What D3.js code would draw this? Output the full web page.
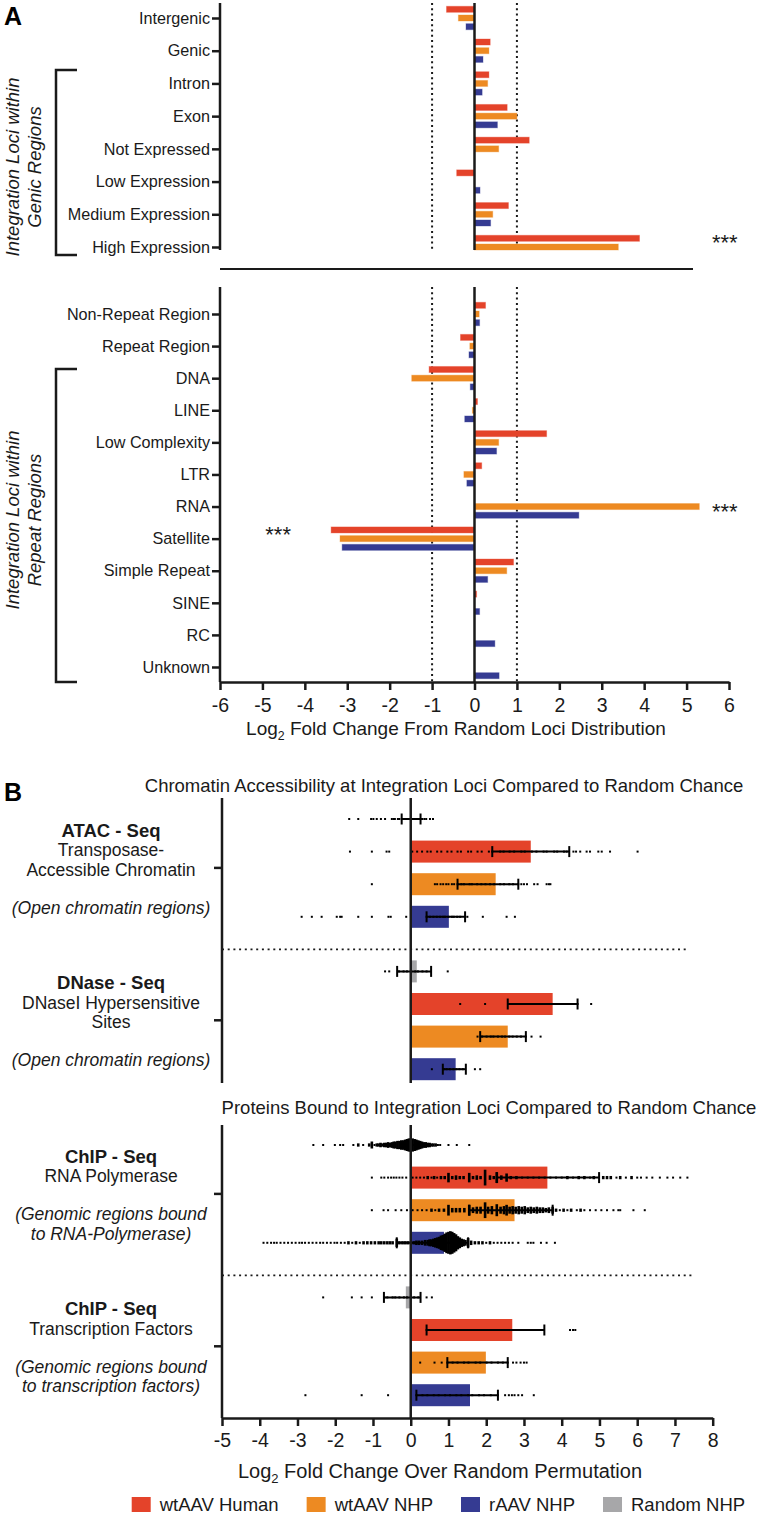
<!DOCTYPE html>
<html>
<head>
<meta charset="utf-8">
<script src="https://cdn.jsdelivr.net/npm/d3@7"></script>
<style>
  body { margin: 0; background: #fff; }
  svg { display: block; font-family: 'Liberation Sans', Arial, sans-serif; }
</style>
</head>
<body>
<svg id="chart" width="758" height="1515"></svg>
<script>
const seriesNames = ['wtAAV Human', 'wtAAV NHP', 'rAAV NHP', 'Random NHP'];
const seriesColors = ['#e4432a', '#ed8a22', '#353b92', '#a7a7a9'];

// ---- Panel A ----
const genicCats = ['Intergenic', 'Genic', 'Intron', 'Exon', 'Not Expressed', 'Low Expression', 'Medium Expression', 'High Expression'];
const genicHuman = [-0.66, 0.37, 0.34, 0.77, 1.29, -0.42, 0.8, 3.89];
const genicWtNhp = [-0.38, 0.34, 0.31, 1.0, 0.57, null, 0.43, 3.39];
const genicRaav = [-0.2, 0.2, 0.18, 0.54, null, 0.13, 0.38, null];

const repeatCats = ['Non-Repeat Region', 'Repeat Region', 'DNA', 'LINE', 'Low Complexity', 'LTR', 'RNA', 'Satellite', 'Simple Repeat', 'SINE', 'RC', 'Unknown'];
const repeatHuman = [0.26, -0.33, -1.07, 0.07, 1.7, 0.17, null, -3.38, 0.92, 0.05, null, null];
const repeatWtNhp = [0.11, -0.11, -1.48, -0.05, 0.57, -0.25, 5.3, -3.17, 0.76, null, null, null];
const repeatRaav = [0.12, -0.13, -0.1, -0.23, 0.52, -0.18, 2.46, -3.12, 0.31, 0.12, 0.48, 0.58];

const ticksA = d3.range(-6, 7);
const starsA = [
  { cat: 'High Expression', x: 5.9, series: 0 },
  { cat: 'RNA', x: 5.9, series: 1 },
  { cat: 'Satellite', x: -4.63, series: 0 },
];

// ---- Panel B ----
const assayTitles = ['ATAC - Seq', 'DNase - Seq', 'ChIP - Seq', 'ChIP - Seq'];
const assayLines = [['Transposase-', 'Accessible Chromatin'], ['DNaseI Hypersensitive', 'Sites'], ['RNA Polymerase'], ['Transcription Factors']];
const assayNotes = [['(Open chromatin regions)'], ['(Open chromatin regions)'], ['(Genomic regions bound', 'to RNA-Polymerase)'], ['(Genomic regions bound', 'to transcription factors)']];
const panelBTitles = ['Chromatin Accessibility at Integration Loci Compared to Random Chance', 'Proteins Bound to Integration Loci Compared to Random Chance'];

// bar heights, one per assay (ATAC, DNase, ChIP RNA Pol, ChIP TF)
const barRandom = [0.0, 0.16, 0.03, -0.13];
const barHuman = [3.18, 3.76, 3.62, 2.69];
const barWtNhp = [2.25, 2.57, 2.75, 1.99];
const barRaav = [1.01, 1.19, 0.88, 1.57];

const errRandom = [[-0.24, 0.26], [-0.36, 0.54], [-0.08, 0.12], [-0.71, 0.26]];
const errHuman = [[2.16, 4.2], [2.57, 4.42], [2.28, 4.99], [0.42, 3.54]];
const errWtNhp = [[1.24, 2.85], [1.84, 3.05], [1.55, 3.76], [0.97, 2.57]];
const errRaav = [[0.42, 1.44], [0.85, 1.46], [-0.37, 1.52], [0.15, 2.31]];

// individual loci; [value, count] where several fall together
const atacRandomDots = [-1.63, -1.39, -1.05, -0.99, -0.9, -0.79, -0.68, -0.5, -0.45, -0.42, -0.34, -0.3, -0.23, -0.18, -0.12, -0.05, 0.02, 0.09, 0.14, 0.19, 0.3, 0.36, 0.41, 0.51, 0.59];
const atacHumanDots = [-1.61, -1.03, -0.64, -0.57, 0.04, 0.17, 0.3, 0.44, 0.53, 0.7, 0.81, 0.97, 1.08, 1.24, 1.33, 1.52, 1.6, 1.77, 1.88, 2.07, 2.16, 2.37, 2.46, 2.62, 2.74, 2.93, 3.02, 3.21, 3.33, 3.52, 3.6, 3.8, 3.88, 4.06, 4.13, 4.31, 4.38, 4.49, 4.66, 4.75, 4.97, 5.06, 5.28, 6.01];
const atacWtNhpDots = [-1.03, 0.64, 0.7, 0.79, 0.86, 0.94, 1.0, 1.09, 1.15, 1.24, 1.34, 1.41, 1.56, 1.62, 1.76, 1.87, 1.98, 2.1, 2.21, 2.37, 2.47, 2.61, 2.71, 2.85, 2.93, 3.0, 3.08, 3.27, 3.36, 3.6, 3.66, 3.7];
const atacRaavDots = [-2.89, -2.62, -2.36, -1.96, -1.87, -1.83, -1.39, -1.03, -0.59, -0.53, -0.12, 0.42, 0.51, 0.6, 0.69, 0.78, 0.86, 0.91, 1.0, 1.09, 1.14, 1.23, 1.31, 1.44, 1.5, 1.91, 2.54, 2.76];

const dnaseRandomDots = [-0.68, -0.57, -0.31, -0.19, -0.1, 0.01, 0.12, 0.19, 0.31, 0.42, 0.98];
const dnaseHumanDots = [1.31, 1.97, 2.6, 2.76, 2.89, 3.01, 3.16, 3.29, 3.44, 3.56, 3.71, 3.84, 3.96, 4.09, 4.21, 4.3, 4.42, 4.78];
const dnaseWtNhpDots = [1.77, 1.89, 2.01, 2.12, 2.19, 2.31, 2.42, 2.5, 2.61, 2.7, 2.81, 2.92, 3.05, 3.2, 3.44];
const dnaseRaavDots = [0.56, 0.88, 0.95, 1.04, 1.13, 1.21, 1.29, 1.38, 1.7, 1.84];

const chipRandomDots = [-2.58, -2.32, -2.01, -1.87, -1.79, -1.52, [-1.39, 2], -1.26, [-1.1, 2], [-1.03, 5], -0.96, [-0.9, 2], [-0.85, 2], [-0.8, 3], [-0.75, 2], [-0.7, 3], [-0.65, 3], [-0.6, 4], [-0.55, 3], [-0.5, 4], [-0.45, 5], [-0.4, 5], [-0.35, 6], [-0.3, 6], [-0.25, 7], [-0.2, 7], [-0.15, 8], [-0.1, 9], [-0.05, 10], [0, 10], [0.05, 10], [0.1, 9], [0.15, 8], [0.2, 7], [0.25, 6], [0.3, 5], [0.35, 4], [0.4, 4], [0.45, 3], [0.5, 3], [0.55, 2], [0.6, 2], [0.66, 2], 0.72, 0.78, 1.0, 1.22, 1.55];
const chipHumanDots = [-1.03, -0.78, -0.7, -0.6, -0.52, -0.45, -0.38, -0.3, -0.22, -0.12, 0.05, 0.15, 0.25, 0.35, [0.45, 2], 0.55, [0.62, 2], 0.7, [0.8, 2], [0.9, 2], [1.0, 7], [1.1, 2], [1.2, 3], [1.3, 2], [1.4, 2], [1.55, 7], [1.65, 2], [1.75, 3], [1.85, 2], [1.97, 12], [2.1, 3], [2.2, 2], [2.28, 8], [2.4, 3], [2.54, 6], [2.65, 2], [2.8, 2], 2.95, 3.1, 3.25, 3.4, 3.55, 3.7, 3.85, 4.0, [4.15, 2], 4.3, [4.45, 2], [4.6, 2], 4.75, [4.85, 2], [5.1, 2], [5.2, 2], [5.3, 2], 5.45, [5.55, 2], 5.7, [5.85, 2], 6.0, 6.1, 6.25, 6.4, 6.6, 6.8, 6.95, 7.14, 7.33];
const chipWtNhpDots = [-1.03, -0.72, -0.6, -0.4, -0.25, -0.1, 0.05, 0.18, 0.3, 0.42, [0.55, 2], 0.65, [0.75, 2], [0.88, 2], [1.0, 8], [1.1, 3], [1.2, 3], [1.3, 3], [1.42, 3], [1.55, 8], [1.65, 4], [1.75, 5], [1.85, 5], [1.97, 12], [2.05, 5], [2.15, 6], [2.28, 9], [2.38, 5], [2.47, 6], [2.54, 8], [2.62, 5], [2.7, 6], [2.78, 5], [2.86, 6], [2.94, 5], [3.02, 6], [3.1, 4], [3.18, 5], [3.26, 4], [3.34, 5], [3.42, 4], [3.5, 4], [3.58, 3], [3.66, 4], [3.76, 5], [3.85, 2], 3.95, [4.05, 2], 4.15, [4.25, 2], 4.4, [4.5, 2], 4.6, 4.75, 4.9, 5.05, 5.2, 5.37, 5.5, 5.55, 5.9, 6.2];
const chipRaavDots = [-3.9, -3.8, -3.7, -3.62, -3.55, -3.45, -3.35, -3.25, -3.15, -3.05, -2.95, -2.88, -2.8, -2.7, -2.6, -2.5, -2.4, -2.32, -2.22, -2.12, -2.02, -1.95, -1.85, -1.75, [-1.65, 2], -1.55, [-1.45, 2], -1.35, [-1.25, 2], [-1.15, 2], [-1.05, 2], [-0.95, 2], [-0.85, 2], [-0.78, 2], [-0.7, 2], [-0.62, 2], [-0.55, 2], [-0.48, 2], [-0.37, 6], [-0.3, 2], [-0.22, 2], [-0.15, 2], [-0.08, 2], [0, 2], [0.08, 2], [0.15, 3], [0.22, 3], [0.3, 3], [0.38, 4], [0.45, 4], [0.5, 5], [0.55, 5], [0.6, 6], [0.65, 7], [0.7, 8], [0.75, 9], [0.8, 11], [0.85, 12], [0.9, 14], [0.95, 16], [1.0, 17], [1.05, 18], [1.1, 17], [1.15, 15], [1.2, 13], [1.25, 10], [1.3, 8], [1.35, 6], [1.4, 5], [1.45, 4], [1.52, 7], [1.6, 3], [1.7, 2], [1.8, 2], [1.9, 2], 2.0, [2.1, 2], 2.2, 2.3, 2.4, 2.5, 2.6, 2.7, 2.85, 3.1, 3.18, 3.25, 3.45, 3.6, 3.82];

const tfRandomDots = [-2.32, -1.56, -1.3, -1.03, -0.7, -0.62, -0.48, -0.41, -0.3, -0.18, -0.1, 0.01, 0.09, 0.2, 0.42, 0.56];
const tfHumanDots = [0.42, 0.61, 0.79, 1.02, 1.18, 1.36, 1.49, 1.71, 1.84, 2.02, 2.19, 2.41, 2.58, 2.81, 2.99, 3.22, 3.4, 4.22, 4.3, 4.36];
const tfWtNhpDots = [0.25, 0.63, 0.82, 0.97, 1.11, 1.24, 1.41, 1.53, 1.72, 1.84, 2.01, 2.14, 2.31, 2.44, 2.57, 2.71, 2.8, 2.91, 3.0, 3.07];
const tfRaavDots = [-2.79, -1.3, -0.6, 0.15, 0.31, 0.44, 0.61, 0.74, 0.91, 1.04, 1.21, 1.34, 1.52, 1.63, 1.81, 1.94, 2.12, 2.31, 2.5, 2.6, 2.68, 2.75, 2.85, 2.95, 3.26];

const ticksB = d3.range(-5, 9);

// ---------------------------------------------------------------
const svg = d3.select('#chart');
const ink = '#1a1a1a';

const vline = (g, x, y1, y2, w = 2.5, dash = null) => {
  const l = g.append('line').attr('x1', x).attr('x2', x).attr('y1', y1).attr('y2', y2)
    .attr('stroke', ink).attr('stroke-width', w);
  if (dash) l.attr('stroke-dasharray', dash);
  return l;
};
const hline = (g, y, x1, x2, w = 2.5, dash = null) => {
  const l = g.append('line').attr('x1', x1).attr('x2', x2).attr('y1', y).attr('y2', y)
    .attr('stroke', ink).attr('stroke-width', w);
  if (dash) l.attr('stroke-dasharray', dash);
  return l;
};

const logTitle = (g, x, y, rest, size) => {
  const t = g.append('text').attr('x', x).attr('y', y).attr('text-anchor', 'middle')
    .attr('font-size', size).attr('fill', ink);
  t.append('tspan').text('Log');
  t.append('tspan').attr('font-size', size * 0.65).attr('dy', 5).text('2');
  t.append('tspan').attr('dy', -5).text(rest);
};

// ---- Panel A drawing ----
const xA = d3.scaleLinear().domain([-6, 6]).range([220, 729]);
const yGenic = d3.scalePoint().domain(genicCats).range([18, 247]);
const yRepeat = d3.scalePoint().domain(repeatCats).range([314, 667]);
const barOffset = d3.scaleLinear().domain([0, 2]).range([-8.7, 8.7]);
const barH = 6;

const gA = svg.append('g');

const drawBarsA = (cats, yScale, seriesVals, top, bottom) => {
  // dotted guides at +/-1
  [-1, 1].forEach((v) => vline(gA, xA(v), top, bottom, 2, '2 3.3'));

  seriesVals.forEach((vals, si) => {
    gA.append('g').selectAll('rect')
      .data(vals.map((v, i) => ({ v, cat: cats[i] })).filter((d) => d.v !== null))
      .join('rect')
      .attr('x', (d) => Math.min(xA(0), xA(d.v)))
      .attr('width', (d) => Math.abs(xA(d.v) - xA(0)))
      .attr('y', (d) => yScale(d.cat) + barOffset(si) - barH / 2)
      .attr('height', barH)
      .attr('fill', seriesColors[si])
      .attr('stroke', seriesColors[si])
      .attr('stroke-opacity', 0.35)
      .attr('stroke-width', 1);
  });

  vline(gA, xA(0), top, bottom, 2.5);

  const ax = gA.append('g').attr('transform', `translate(${xA(-6)},0)`)
    .call(d3.axisLeft(yScale).tickSize(8).tickPadding(2).tickSizeOuter(0));
  ax.select('.domain').remove();
  ax.selectAll('line').attr('stroke', ink).attr('stroke-width', 2.5);
  ax.selectAll('text').attr('font-size', 16.2).attr('fill', ink).attr('font-family', null);
  vline(gA, xA(-6), top, bottom, 2.5);
};

drawBarsA(genicCats, yGenic, [genicHuman, genicWtNhp, genicRaav], 3, 250);
drawBarsA(repeatCats, yRepeat, [repeatHuman, repeatWtNhp, repeatRaav], 287, 682);

hline(gA, 269, 220, 693, 2);

const axA = gA.append('g').attr('transform', 'translate(0,682)')
  .call(d3.axisBottom(xA).tickValues(ticksA).tickSize(8).tickPadding(8).tickSizeOuter(0)
    .tickFormat((d) => String(d).replace('−', '-')));
axA.select('.domain').attr('stroke', ink).attr('stroke-width', 2.5);
axA.selectAll('line').attr('stroke', ink).attr('stroke-width', 2.5);
axA.selectAll('text').attr('font-size', 19.5).attr('fill', ink).attr('font-family', null);

logTitle(gA, 456, 735, ' Fold Change From Random Loci Distribution', 19);

starsA.forEach((s) => {
  const yScale = genicCats.includes(s.cat) ? yGenic : yRepeat;
  gA.append('text').attr('x', xA(s.x)).attr('y', yScale(s.cat) + barOffset(s.series) + 12)
    .attr('text-anchor', 'middle').attr('font-size', 22).attr('fill', ink).text('***');
});

// brackets and rotated group labels
const bracket = (y1, y2) => {
  gA.append('path').attr('d', `M77,${y1}H56V${y2}H77`).attr('fill', 'none')
    .attr('stroke', ink).attr('stroke-width', 2.5);
};
bracket(70, 255);
bracket(369, 682);

const rotLabel = (cy, lines) => {
  lines.forEach((txt, i) => {
    gA.append('text').attr('transform', `translate(${19 + i * 22},${cy}) rotate(-90)`)
      .attr('text-anchor', 'middle').attr('font-size', 18.5).attr('font-style', 'italic')
      .attr('fill', ink).text(txt);
  });
};
rotLabel(167, ['Integration Loci within', 'Genic Regions']);
rotLabel(520, ['Integration Loci within', 'Repeat Regions']);

svg.append('text').attr('x', 4).attr('y', 25).attr('font-size', 25).attr('font-weight', 'bold')
  .attr('fill', '#000').text('A');
svg.append('text').attr('x', 4).attr('y', 801).attr('font-size', 25).attr('font-weight', 'bold')
  .attr('fill', '#000').text('B');

// ---- Panel B drawing ----
const xB = d3.scaleLinear().domain([-5, 8]).range([222, 712.7]);
const gB = svg.append('g');

const subplots = [
  { y0: 819, top: 798, bottom: 1083, titleX: 444, titleY: 792, assays: [0, 1], sepEnd: 686 },
  { y0: 1145, top: 1125, bottom: 1418, titleX: 489, titleY: 1114, assays: [2, 3], sepEnd: 692 },
];
const rowStep = 32.6;
const groupGap = 22;
const bBarH = 22;

// row order within an assay: Random, Human, wtNHP, rAAV
const barRows = [barRandom, barHuman, barWtNhp, barRaav];
const errRows = [errRandom, errHuman, errWtNhp, errRaav];
const rowColors = [seriesColors[3], seriesColors[0], seriesColors[1], seriesColors[2]];
const dotRows = [
  [atacRandomDots, atacHumanDots, atacWtNhpDots, atacRaavDots],
  [dnaseRandomDots, dnaseHumanDots, dnaseWtNhpDots, dnaseRaavDots],
  [chipRandomDots, chipHumanDots, chipWtNhpDots, chipRaavDots],
  [tfRandomDots, tfHumanDots, tfWtNhpDots, tfRaavDots],
];

const rowY = (sp, k, r) => sp.y0 + k * (4 * rowStep + groupGap) + r * rowStep;
const stackH = (n) => 2 + (n - 1) * 1.25;

subplots.forEach((sp, si) => {
  gB.append('text').attr('x', sp.titleX).attr('y', sp.titleY).attr('text-anchor', 'middle')
    .attr('font-size', 18.5).attr('fill', ink).text(panelBTitles[si]);

  const rows = [];
  sp.assays.forEach((a, k) => {
    for (let r = 0; r < 4; r += 1) {
      rows.push({ a, k, r, y: rowY(sp, k, r), v: barRows[r][a], err: errRows[r][a], color: rowColors[r] });
    }
  });

  // bars
  gB.append('g').selectAll('rect').data(rows).join('rect')
    .attr('x', (d) => Math.min(xB(0), xB(d.v)))
    .attr('width', (d) => Math.abs(xB(d.v) - xB(0)))
    .attr('y', (d) => d.y - bBarH / 2)
    .attr('height', bBarH)
    .attr('fill', (d) => d.color);

  // points
  const dots = rows.flatMap((row) => dotRows[row.a][row.r].map((p) => {
    const [x, n] = Array.isArray(p) ? p : [p, 1];
    return { x, n, y: row.y };
  }));
  gB.append('g').selectAll('rect').data(dots).join('rect')
    .attr('x', (d) => xB(d.x) - (d.n > 1 ? 1.3 : 1))
    .attr('width', (d) => (d.n > 1 ? 2.6 : 2))
    .attr('y', (d) => d.y - stackH(d.n) / 2)
    .attr('height', (d) => stackH(d.n))
    .attr('fill', '#000');

  // error bars
  const eb = gB.append('g').selectAll('g').data(rows).join('g');
  eb.append('line').attr('x1', (d) => xB(d.err[0])).attr('x2', (d) => xB(d.err[1]))
    .attr('y1', (d) => d.y).attr('y2', (d) => d.y).attr('stroke', '#000').attr('stroke-width', 2);
  [0, 1].forEach((j) => {
    eb.append('line').attr('x1', (d) => xB(d.err[j])).attr('x2', (d) => xB(d.err[j]))
      .attr('y1', (d) => d.y - 5.5).attr('y2', (d) => d.y + 5.5).attr('stroke', '#000').attr('stroke-width', 2);
  });

  // dotted separator between assays
  const sepY = rowY(sp, 0, 3) + 32.5;
  hline(gB, sepY, xB(-5), sp.sepEnd, 1.8, '2 3.7');

  vline(gB, xB(0), sp.top, sp.bottom, 2.5);
  vline(gB, xB(-5), sp.top, sp.bottom, 2.5);

  // group ticks and labels
  sp.assays.forEach((a, k) => {
    const tc = (rowY(sp, k, 0) + rowY(sp, k, 3)) / 2;
    gB.append('line').attr('x1', xB(-5) - 8).attr('x2', xB(-5)).attr('y1', tc).attr('y2', tc)
      .attr('stroke', ink).attr('stroke-width', 2.5);

    const lines = [{ t: assayTitles[a], s: 'bold' }]
      .concat(assayLines[a].map((t) => ({ t, s: 'normal' })))
      .concat(assayNotes[a].map((t, i) => ({ t, s: 'italic', gap: i === 0 })));
    let y = tc - 37;
    lines.forEach((ln, i) => {
      if (i > 0) y += ln.gap ? 38 : 19.5;
      gB.append('text').attr('x', 111).attr('y', y + 6).attr('text-anchor', 'middle')
        .attr('font-size', ln.s === 'bold' ? 18.5 : 17.5)
        .attr('font-weight', ln.s === 'bold' ? 'bold' : null)
        .attr('font-style', ln.s === 'italic' ? 'italic' : null)
        .attr('fill', ink).text(ln.t);
    });
  });
});

const axB = gB.append('g').attr('transform', 'translate(0,1418)')
  .call(d3.axisBottom(xB).tickValues(ticksB).tickSize(8).tickPadding(7).tickSizeOuter(0)
    .tickFormat((d) => String(d).replace('−', '-')));
axB.select('.domain').attr('stroke', ink).attr('stroke-width', 2.5);
axB.selectAll('line').attr('stroke', ink).attr('stroke-width', 2.5);
axB.selectAll('text').attr('font-size', 19.5).attr('fill', ink).attr('font-family', null);

logTitle(gB, 440, 1478, ' Fold Change Over Random Permutation', 20);

// legend, laid out left to right by text width
const leg = gB.append('g').selectAll('g').data(seriesNames).join('g');
leg.append('rect').attr('width', 19).attr('height', 15).attr('fill', (d, i) => seriesColors[i]);
leg.append('text').attr('x', 28).attr('y', 13.5).attr('font-size', 18.5).attr('fill', ink).text((d) => d);
let legX = 131.7;
leg.each(function () {
  d3.select(this).attr('transform', `translate(${legX},1497)`);
  legX += 28 + d3.select(this).select('text').node().getComputedTextLength() + 28;
});
</script>
</body>
</html>
